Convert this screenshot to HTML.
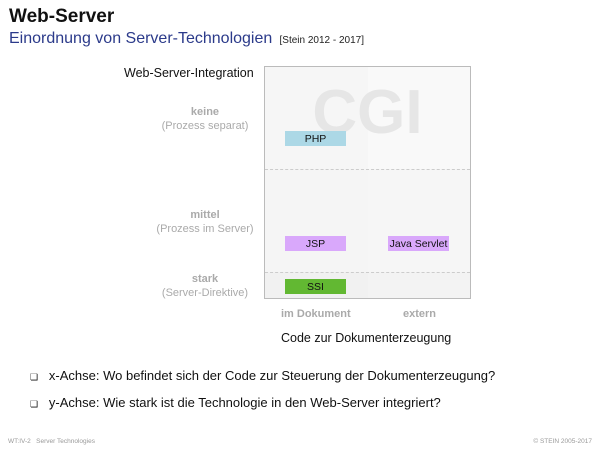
<!DOCTYPE html>
<html><head><meta charset="utf-8"><style>
body{margin:0;width:600px;height:450px;background:#fff;position:relative;overflow:hidden;font-family:"Liberation Sans",sans-serif}
.a{position:absolute;white-space:nowrap}
.lab{position:absolute;width:140px;text-align:center;font-size:11px;color:#aaa;line-height:14px}
.box{position:absolute;width:61px;height:15px;font-size:10.5px;text-align:center;line-height:16px;color:#111}
</style></head><body>
<div class="a" style="left:9px;top:6px;font-size:19px;font-weight:bold;color:#111">Web-Server</div>
<div class="a" style="left:9px;top:30px;font-size:16px;color:#2b3a8a">Einordnung von Server-Technologien <span style="font-size:10px;color:#222">&nbsp;[Stein 2012 - 2017]</span></div>

<div class="a" style="left:264px;top:66px;width:205px;height:231px;border:1px solid #bbb;background:#f9f9f9;overflow:hidden">
  <div style="position:absolute;left:0;top:0;width:103px;height:231px;background:#f6f6f6"></div>
  <div style="position:absolute;left:0;top:102px;width:205px;height:103px;background:#f3f3f3;opacity:.5"></div>
  <div style="position:absolute;left:0;top:205px;width:205px;height:26px;background:#efefef;opacity:.6"></div>
  <div style="position:absolute;left:0;top:102px;width:205px;border-top:1px dashed #ccc"></div>
  <div style="position:absolute;left:0;top:205px;width:205px;border-top:1px dashed #ccc"></div>
  <div style="position:absolute;left:0;top:13px;width:205px;text-align:center;font-size:62px;font-weight:bold;color:#e6e6e6;line-height:66px">CGI</div>
</div>
<div class="box" style="left:285px;top:131px;background:#acd8e6">PHP</div>
<div class="box" style="left:285px;top:236px;background:#d9a8fb">JSP</div>
<div class="box" style="left:388px;top:236px;background:#d9a8fb">Java Servlet</div>
<div class="box" style="left:285px;top:279px;background:#62b832">SSI</div>

<div class="a" style="left:124px;top:66px;font-size:12.5px;color:#111">Web-Server-Integration</div>
<div class="lab" style="left:135px;top:105px"><b>keine</b><br>(Prozess separat)</div>
<div class="lab" style="left:135px;top:208px"><b>mittel</b><br>(Prozess im Server)</div>
<div class="lab" style="left:135px;top:272px"><b>stark</b><br>(Server-Direktive)</div>
<div class="a" style="left:281px;top:308px;font-size:11px;font-weight:bold;color:#aaa">im Dokument</div>
<div class="a" style="left:403px;top:308px;font-size:11px;font-weight:bold;color:#aaa">extern</div>
<div class="a" style="left:281px;top:331px;font-size:12.5px;color:#111">Code zur Dokumenterzeugung</div>

<div class="a" style="left:30px;top:368px;font-size:13px;color:#111"><span style="font-size:9px">&#x274F;</span>&nbsp;&nbsp; x-Achse: Wo befindet sich der Code zur Steuerung der Dokumenterzeugung?</div>
<div class="a" style="left:30px;top:395px;font-size:13px;color:#111"><span style="font-size:9px">&#x274F;</span>&nbsp;&nbsp; y-Achse: Wie stark ist die Technologie in den Web-Server integriert?</div>

<div class="a" style="left:8px;top:438px;font-size:6.5px;color:#999">WT:IV-2 &nbsp; Server Technologies</div>
<div class="a" style="right:8px;top:438px;font-size:6.5px;color:#999">© STEIN 2005-2017</div>
</body></html>
